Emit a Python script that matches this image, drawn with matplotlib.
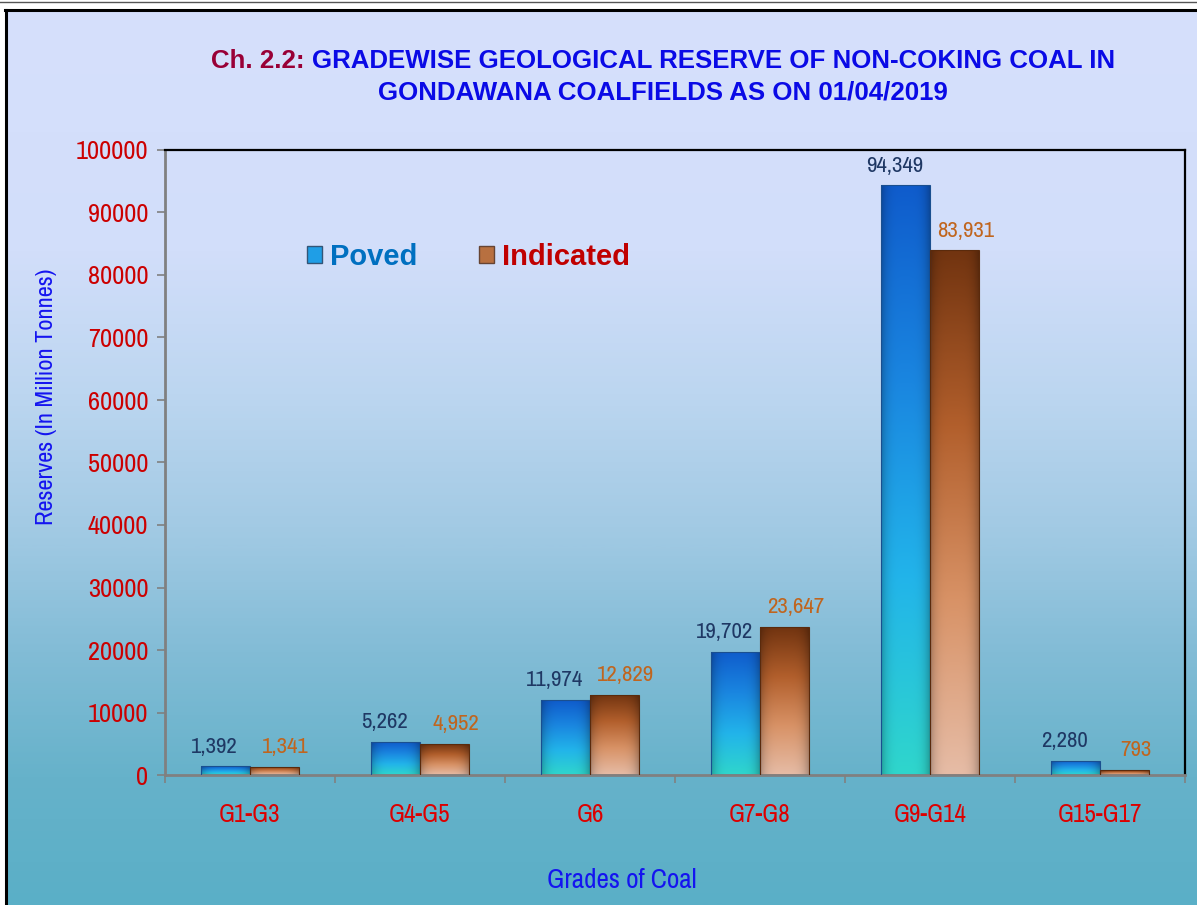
import numpy as np
import matplotlib
matplotlib.use("Agg")
import matplotlib.pyplot as plt
from matplotlib.colors import LinearSegmentedColormap
from matplotlib.patches import Patch
from matplotlib.lines import Line2D

grades = ["G1-G3", "G4-G5", "G6", "G7-G8", "G9-G14", "G15-G17"]
proved = [1392, 5262, 11974, 19702, 94349, 2280]
indicated = [1341, 4952, 12829, 23647, 83931, 793]
yticks = [0, 10000, 20000, 30000, 40000, 50000, 60000, 70000, 80000, 90000, 100000]

NARROW = ["Archivo Narrow", "Liberation Sans", "DejaVu Sans"]
TITLE = ["Liberation Sans", "DejaVu Sans"]
W, H = 1197, 905

fig = plt.figure(figsize=(W / 100, H / 100), dpi=100)
fig.patch.set_facecolor("white")

# background gradient of the chart area
bg = fig.add_axes([5 / W, 0, 1 - 5 / W, 1 - 10 / H], zorder=0)
bg_cmap = LinearSegmentedColormap.from_list("bg", [
    (0.0, "#d6e0fc"), (0.27, "#d2defa"), (0.43, "#bcd6f0"),
    (0.58, "#a2cae4"), (0.72, "#82bcd6"), (0.86, "#66b2ca"), (1.0, "#5aafc7")])
bg.imshow(np.linspace(0, 1, 400).reshape(-1, 1), cmap=bg_cmap, aspect="auto",
          extent=[0, 1, 0, 1], origin="upper")
bg.set_axis_off()

# frame lines
fig.add_artist(Line2D([0, 1], [1 - 2 / H, 1 - 2 / H], color="#555555", lw=1,
                      transform=fig.transFigure))
fig.add_artist(Line2D([5 / W, 1], [1 - 10 / H, 1 - 10 / H], color="black", lw=2.2,
                      transform=fig.transFigure))
fig.add_artist(Line2D([5.5 / W, 5.5 / W], [0, 1 - 10 / H], color="black", lw=2.2,
                      transform=fig.transFigure))

ax = fig.add_axes([165 / W, (H - 775) / H, (1185 - 165) / W, (775 - 150) / H], zorder=1)
ax.patch.set_alpha(0)

x = np.arange(len(grades))
bw = 0.288

blue_cmap = LinearSegmentedColormap.from_list("b", ["#2fd6cc", "#22b4ea", "#1a86e0", "#0f5ccc"])
brown_cmap = LinearSegmentedColormap.from_list("r", ["#e6bca6", "#d89266", "#b25f2c", "#723410"])


def gradient_img(cmap):
    v = np.linspace(0, 1, 200)
    col = cmap(v)[:, :3]
    h = np.linspace(-1, 1, 60)
    shade = 1 - 0.25 * np.abs(h) ** 4
    img = col[:, None, :] * shade[None, :, None]
    return np.clip(img, 0, 1)


bars_p = ax.bar(x - bw / 2, proved, bw, facecolor="none", edgecolor="#1a4f8f", lw=0.8, zorder=3)
bars_i = ax.bar(x + bw / 2, indicated, bw, facecolor="none", edgecolor="#5a2a0c", lw=0.8, zorder=3)

for bars, cmap in [(bars_p, blue_cmap), (bars_i, brown_cmap)]:
    img = gradient_img(cmap)
    for b in bars:
        x0, y0 = b.get_x(), b.get_y()
        im = ax.imshow(img, extent=[x0, x0 + b.get_width(), y0, y0 + b.get_height()],
                       aspect="auto", origin="lower", zorder=2, interpolation="bilinear")
        im.set_clip_path(b)

for b, v in zip(bars_p, proved):
    ax.annotate(f"{v:,}", (b.get_x() + b.get_width() / 2, b.get_height()),
                xytext=(-8, 7), textcoords="offset points", ha="center", va="bottom",
                color="#1f3864", fontsize=16.5, family=NARROW)
for b, v in zip(bars_i, indicated):
    ax.annotate(f"{v:,}", (b.get_x() + b.get_width() / 2, b.get_height()),
                xytext=(8, 7), textcoords="offset points", ha="center", va="bottom",
                color="#c0651e", fontsize=16.5, family=NARROW)

ax.set_xlim(-0.5, len(grades) - 0.5)
ax.set_ylim(0, 100000)
ax.set_yticks(yticks)
ax.set_yticklabels([str(t) for t in yticks], color="#cc0000", fontsize=19, family=NARROW)
ax.set_xticks(x)
ax.set_xticklabels(grades, color="#dd0000", fontsize=18, family=NARROW)
ax.set_xticks(np.arange(len(grades) + 1) - 0.5, minor=True)
ax.tick_params(axis="x", which="major", length=0, pad=20)
ax.tick_params(axis="x", which="minor", length=6, color="#808080", width=1.2)
ax.tick_params(axis="y", length=6, color="#808080", width=1.2, pad=6)

for s in ["left", "bottom"]:
    ax.spines[s].set_color("#808080")
    ax.spines[s].set_linewidth(2)
for s in ["top", "right"]:
    ax.spines[s].set_color("black")
    ax.spines[s].set_linewidth(1.6)

fig.text(47 / W, 1 - 397 / H, "Reserves (In Million Tonnes)", rotation=90, ha="center",
         va="center", color="#1414f0", fontsize=17.5, family=NARROW)
fig.text(622 / W, 1 - 880 / H, "Grades of Coal", ha="center", va="center",
         color="#1414f0", fontsize=19.5, family=NARROW)

# legend
handles = [Patch(facecolor="#1f9ee6", edgecolor="#335577"),
           Patch(facecolor="#b87040", edgecolor="#664433")]
leg = fig.legend(handles, ["Poved", "Indicated"], loc="center left",
                 bbox_to_anchor=(307 / W, 1 - 257 / H), ncol=2, frameon=False,
                 borderpad=0, borderaxespad=0,
                 handlelength=0.52, handleheight=0.52, handletextpad=0.28, columnspacing=2.1,
                 prop={"family": "Liberation Sans", "weight": "bold", "size": 21})
leg.get_texts()[0].set_color("#0070c0")
leg.get_texts()[1].set_color("#c00000")

# two-colour title
renderer = fig.canvas.get_renderer()
tfont = dict(fontsize=18.6, fontweight="bold", family=TITLE)
part1 = "Ch. 2.2: "
part2 = "GRADEWISE GEOLOGICAL RESERVE OF NON-COKING COAL IN"
probe = fig.text(0, 0, part1 + part2, **tfont)
total_w = probe.get_window_extent(renderer).width
probe.remove()
y1 = 1 - 61 / H
t1 = fig.text(663 / W - total_w / 2 / W, y1, part1, color="#990036", va="center", ha="left", **tfont)
w1 = t1.get_window_extent(renderer).width
fig.text(663 / W - total_w / 2 / W + w1 / W, y1, part2, color="#0a0ae6", va="center", ha="left", **tfont)
fig.text(663 / W, 1 - 92 / H, "GONDAWANA COALFIELDS AS ON 01/04/2019", color="#0a0ae6",
         va="center", ha="center", **tfont)

fig.savefig("out.png", dpi=100)
